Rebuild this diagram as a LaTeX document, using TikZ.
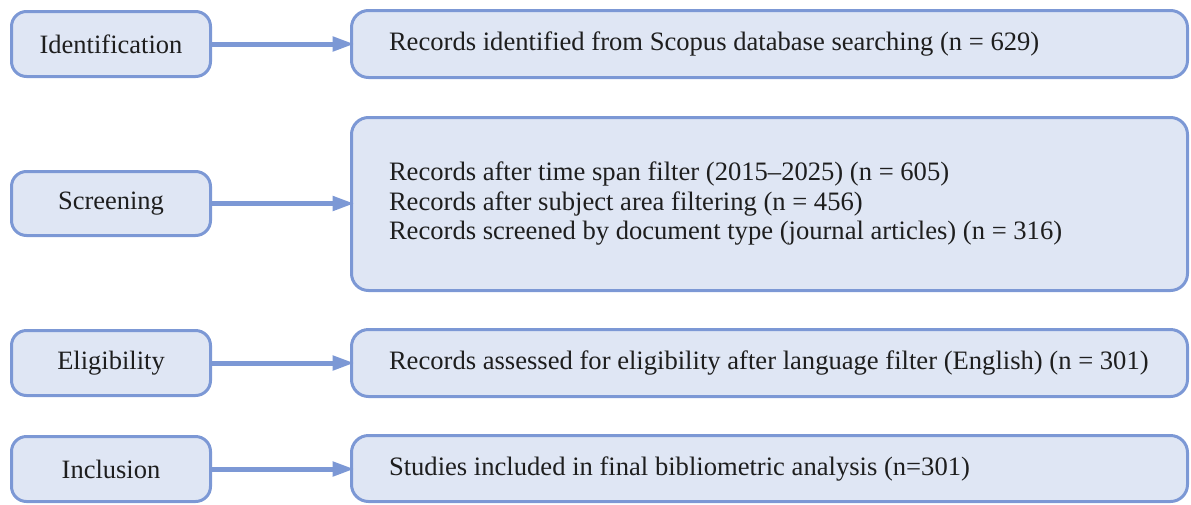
\documentclass[tikz,border=0pt]{standalone}
\usepackage{fontspec}
\setmainfont{Liberation Serif}
\usetikzlibrary{arrows.meta}
\definecolor{boxfill}{HTML}{DFE6F4}
\definecolor{boxline}{HTML}{7C98D5}
\definecolor{txt}{HTML}{1E1E1E}
\newcommand{\infotext}[1]{\parbox[c]{761pt}{\setlength{\parindent}{0pt}#1}}
\tikzset{
  stagebox/.style={draw=boxline, fill=boxfill, line width=3pt, rounded corners=15pt,
    inner sep=0pt, outer sep=0pt, minimum width=199pt, text=txt,
    font=\fontsize{26.5}{29.5}\selectfont},
  infobox/.style={draw=boxline, fill=boxfill, line width=3pt, rounded corners=17pt,
    inner xsep=37.5pt, inner ysep=0pt, outer sep=0pt, minimum width=836pt,
    text=txt, font=\fontsize{26.6}{29.5}\selectfont},
  flow/.style={draw=boxline, line width=5pt, -{Triangle[length=22pt,width=14pt]}}
}
\begin{document}
\begin{tikzpicture}[x=1pt,y=-1pt]
\useasboundingbox (0,0) rectangle (1191,504);
% left stage boxes
\node[stagebox, minimum height=65pt] (id) at (111,44) {Identification};
\node[stagebox, minimum height=64pt] (sc) at (111,203.5) {Screening};
\node[stagebox, minimum height=65pt] (el) at (111,363) {Eligibility};
\node[stagebox, minimum height=65pt] (in) at (111,469) {Inclusion};
% right boxes
\node[infobox, minimum height=67pt] (idr) at (769.5,44) {\infotext{Records identified from Scopus database searching (n = 629)}};
\node[infobox, minimum height=173pt] (scr) at (769.5,204) {\infotext{Records after time span filter (2015–2025) (n = 605)\\Records after subject area filtering (n = 456)\\Records screened by document type (journal articles) (n = 316)}};
\node[infobox, minimum height=67pt] (elr) at (769.5,363) {\infotext{\mbox{Records assessed for eligibility after language filter (English) (n = 301)}}};
\node[infobox, minimum height=66pt] (inr) at (769.5,468.5) {\infotext{Studies included in final bibliometric analysis (n=301)}};
% arrows
\draw[flow] (id.east) -- ([xshift=3pt]idr.west |- id.east);
\draw[flow] (sc.east) -- ([xshift=3pt]scr.west |- sc.east);
\draw[flow] (el.east) -- ([xshift=3pt]elr.west |- el.east);
\draw[flow] (in.east) -- ([xshift=3pt]inr.west |- in.east);
\end{tikzpicture}
\end{document}
